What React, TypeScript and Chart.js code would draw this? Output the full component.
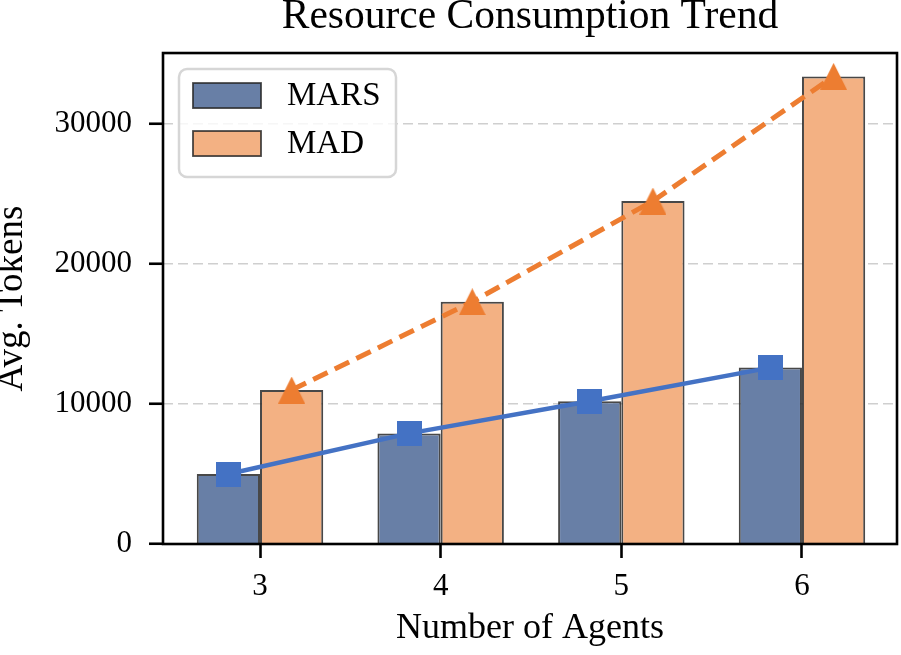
import React, { useEffect, useRef } from "react";
import { Chart, registerables } from "chart.js";

Chart.register(...registerables);

const categories = [3, 4, 5, 6];
const marsTokens = [5000, 7900, 10200, 12600];
const madTokens = [11000, 17300, 24500, 33400];
const yTickValues = [0, 10000, 20000, 30000];
const seriesNames = ["MARS", "MAD"];
const chartTitle = "Resource Consumption Trend";
const xAxisTitle = "Number of Agents";
const yAxisTitle = "Avg. Tokens";

const FONT = '"Liberation Serif", "Times New Roman", serif';
const BAR_COLORS = ["#687fa6", "#f3b183"];
const BAR_EDGE = "rgba(40,40,40,0.85)";
const LINE_COLORS = ["#4472c4", "#ed7d31"];
const CAT_PCT = 0.7;

function makeSquare(size: number, color: string) {
  const c = document.createElement("canvas");
  c.width = size;
  c.height = size;
  const ctx = c.getContext("2d")!;
  ctx.fillStyle = color;
  ctx.fillRect(0, 0, size, size);
  return c;
}

function makeTriangle(size: number, color: string) {
  const c = document.createElement("canvas");
  c.width = size;
  c.height = size;
  const ctx = c.getContext("2d")!;
  ctx.fillStyle = color;
  ctx.beginPath();
  ctx.moveTo(size / 2, 0);
  ctx.lineTo(size, size);
  ctx.lineTo(0, size);
  ctx.closePath();
  ctx.fill();
  return c;
}

const framePlugin = {
  id: "frame",
  afterDatasetsDraw(chart: any) {
    const { ctx, chartArea } = chart;
    ctx.save();
    ctx.strokeStyle = "#000";
    ctx.lineWidth = 2.6;
    ctx.strokeRect(chartArea.left, chartArea.top, chartArea.right - chartArea.left, chartArea.bottom - chartArea.top);
    ctx.restore();
  },
};

const legendPlugin = {
  id: "boxLegend",
  afterDraw(chart: any) {
    const { ctx, chartArea } = chart;
    const bx = chartArea.left + 16;
    const by = chartArea.top + 16;
    const bw = 217;
    const bh = 108;
    ctx.save();
    ctx.beginPath();
    ctx.roundRect(bx, by, bw, bh, 8);
    ctx.fillStyle = "rgba(255,255,255,0.8)";
    ctx.fill();
    ctx.lineWidth = 2.5;
    ctx.strokeStyle = "#d6d6d6";
    ctx.stroke();
    const bars = chart.data.datasets.filter((d: any) => d.type === "bar");
    bars.forEach((ds: any, i: number) => {
      const px = bx + 14;
      const py = by + 14 + i * 48;
      ctx.fillStyle = ds.backgroundColor;
      ctx.fillRect(px, py, 68, 25);
      ctx.strokeStyle = ds.borderColor;
      ctx.lineWidth = 1.8;
      ctx.strokeRect(px, py, 68, 25);
      ctx.fillStyle = "#000";
      ctx.font = `33px ${FONT}`;
      ctx.textBaseline = "middle";
      ctx.textAlign = "left";
      ctx.fillText(ds.label, bx + 108, py + 13);
    });
    ctx.restore();
  },
};

export default function App() {
  const ref = useRef<HTMLCanvasElement | null>(null);

  useEffect(() => {
    if (!ref.current) return;
    const shift = CAT_PCT / 4;
    const square = makeSquare(25, LINE_COLORS[0]);
    const triangle = makeTriangle(27, LINE_COLORS[1]);

    const chart = new Chart(ref.current, {
      data: {
        datasets: [
          {
            type: "line",
            label: seriesNames[0] + " trend",
            data: categories.map((c, i) => ({ x: c - shift, y: marsTokens[i] })),
            borderColor: LINE_COLORS[0],
            backgroundColor: LINE_COLORS[0],
            borderWidth: 4.5,
            pointStyle: square as any,
            pointRadius: 12,
            order: 1,
          },
          {
            type: "line",
            label: seriesNames[1] + " trend",
            data: categories.map((c, i) => ({ x: c + shift, y: madTokens[i] })),
            borderColor: LINE_COLORS[1],
            backgroundColor: LINE_COLORS[1],
            borderWidth: 5,
            borderDash: [16, 8],
            pointStyle: triangle as any,
            pointRadius: 12,
            order: 0,
          },
          {
            type: "bar",
            label: seriesNames[0],
            data: categories.map((c, i) => ({ x: c, y: marsTokens[i] })),
            backgroundColor: BAR_COLORS[0],
            borderColor: BAR_EDGE,
            borderWidth: 2,
            categoryPercentage: CAT_PCT,
            barPercentage: 1,
            order: 2,
          },
          {
            type: "bar",
            label: seriesNames[1],
            data: categories.map((c, i) => ({ x: c, y: madTokens[i] })),
            backgroundColor: BAR_COLORS[1],
            borderColor: BAR_EDGE,
            borderWidth: 2,
            categoryPercentage: CAT_PCT,
            barPercentage: 1,
            order: 2,
          },
        ] as any,
      },
      options: {
        animation: false,
        responsive: false,
        devicePixelRatio: 1,
        layout: { autoPadding: false, padding: { left: 0, right: 4, top: 0, bottom: 0 } },
        plugins: {
          legend: { display: false },
          tooltip: { enabled: false },
          title: {
            display: true,
            text: chartTitle,
            fullSize: false,
            color: "#000",
            font: { family: FONT, size: 41.5, weight: "normal", lineHeight: 0.82 },
            padding: { top: 0, bottom: 19 },
          },
        },
        scales: {
          x: {
            type: "linear",
            offset: false,
            min: 2.463,
            max: 6.526,
            afterBuildTicks: (scale: any) => {
              scale.ticks = categories.map((v) => ({ value: v }));
            },
            afterFit: (scale: any) => {
              scale.height = 111;
              scale.paddingRight = 0;
              scale.paddingLeft = 0;
            },
            border: { display: false },
            grid: {
              offset: false,
              drawOnChartArea: false,
              drawTicks: true,
              tickLength: 14,
              tickWidth: 2.6,
              tickColor: "#000",
              color: "#000",
            },
            ticks: {
              color: "#000",
              padding: 10,
              font: { family: FONT, size: 31 },
              callback: (v: any) => String(v),
            },
            title: {
              display: true,
              text: xAxisTitle,
              color: "#000",
              font: { family: FONT, size: 36, lineHeight: 1.2 },
              padding: { top: 0, bottom: 5 },
            },
          },
          y: {
            type: "linear",
            min: 0,
            max: 35071,
            afterBuildTicks: (scale: any) => {
              scale.ticks = yTickValues.map((v) => ({ value: v }));
            },
            afterFit: (scale: any) => {
              scale.width = 163;
            },
            border: { display: false, dash: [10, 5] },
            grid: {
              color: "#cfcfcf",
              lineWidth: 1.5,
              drawTicks: true,
              tickLength: 14,
              tickWidth: 2.6,
              tickColor: "#000",
              tickBorderDash: [],
            },
            ticks: {
              color: "#000",
              padding: 17,
              font: { family: FONT, size: 31 },
              callback: (v: any) => String(v),
            },
            title: {
              display: true,
              text: yAxisTitle,
              color: "#000",
              font: { family: FONT, size: 37, lineHeight: 0.676 },
              padding: { top: 0, bottom: 0 },
            },
          },
        },
      },
      plugins: [framePlugin, legendPlugin],
    } as any);

    return () => chart.destroy();
  }, []);

  return (
    <div style={{ position: "absolute", left: 0, top: 0, width: 901, height: 655, background: "#fff" }}>
      <canvas ref={ref} width={901} height={655} style={{ display: "block" }} />
    </div>
  );
}
